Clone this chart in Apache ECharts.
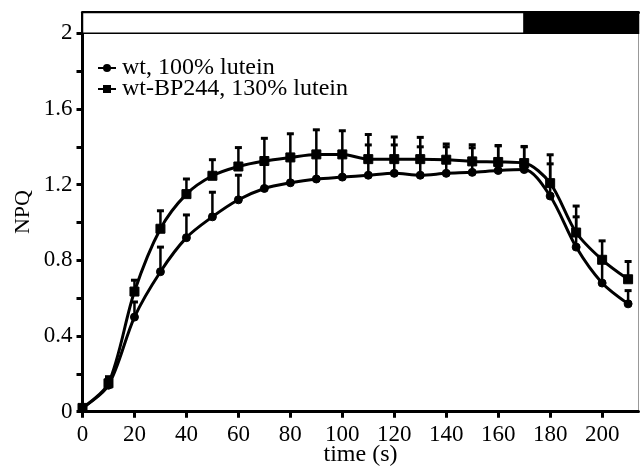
<!DOCTYPE html>
<html>
<head>
<meta charset="utf-8">
<script src="https://cdn.jsdelivr.net/npm/echarts@6/dist/echarts.min.js"></script>
<style>
html,body{margin:0;padding:0;background:#fff;}
#chart{width:640px;height:466px;}
</style>
</head>
<body>
<div id="chart"></div>
<script>
// time points (s)
const time = [0,10,20,30,40,50,60,70,80,90,100,110,120,130,140,150,160,170,180,190,200,210];
// wt, 100% lutein
const wtNPQ = [0.02,0.14,0.50,0.74,0.92,1.03,1.12,1.18,1.21,1.23,1.24,1.25,1.26,1.25,1.26,1.265,1.275,1.28,1.14,0.87,0.68,0.57];
const wtErr = [0.01,0.04,0.08,0.13,0.12,0.13,0.13,0.14,0.13,0.12,0.12,0.16,0.15,0.15,0.14,0.13,0.13,0.12,0.17,0.16,0.12,0.07];
// wt-BP244, 130% lutein
const bpNPQ = [0.02,0.15,0.635,0.967,1.15,1.247,1.296,1.325,1.344,1.36,1.36,1.335,1.335,1.335,1.332,1.323,1.32,1.314,1.208,0.947,0.803,0.70];
const bpErr = [0.01,0.035,0.06,0.095,0.08,0.085,0.10,0.12,0.125,0.13,0.125,0.13,0.117,0.115,0.083,0.088,0.087,0.088,0.15,0.14,0.10,0.094];
// tick labels
const xTicks = [0,20,40,60,80,100,120,140,160,180,200];
const yTicks = [0,0.4,0.8,1.2,1.6,2];
const yMinorTicks = [0,0.2,0.4,0.6,0.8,1.0,1.2,1.4,1.6,1.8,2.0];
// light / dark periods (s)
const lightPeriod = [0,170];
const darkPeriod = [170,214];
const seriesNames = ['wt, 100% lutein','wt-BP244, 130% lutein'];

const FONT = 'Liberation Serif';
const chart = echarts.init(document.getElementById('chart'));

function pairs(vals){ return time.map((t,i)=>[t,vals[i]]); }
function errData(vals, errs){ return time.map((t,i)=>[t,vals[i],errs[i]]); }

function errRender(params, api){
  const x = api.value(0), y = api.value(1), e = api.value(2);
  const p0 = api.coord([x,y]);
  const p1 = api.coord([x,y+e]);
  return {type:'group', children:[
    {type:'line', shape:{x1:p0[0],y1:p0[1],x2:p1[0],y2:p1[1]}, style:{stroke:'#000',lineWidth:2.5}},
    {type:'line', shape:{x1:p1[0]-3.5,y1:p1[1],x2:p1[0]+3.5,y2:p1[1]}, style:{stroke:'#000',lineWidth:3}}
  ]};
}

chart.setOption({
  animation:false,
  backgroundColor:'#fff',
  grid:{left:82.5,right:1.5,top:12.5,bottom:54.3,containLabel:false,outerBoundsMode:'none',
    show:true,borderColor:'#999',borderWidth:1,backgroundColor:'transparent'},
  legend:{
    orient:'vertical', left:92, top:51, itemWidth:18, itemHeight:10, itemGap:-3,
    data:seriesNames,
    textStyle:{fontFamily:FONT,fontSize:24,color:'#000',lineHeight:20,padding:[0,0,0,1]}
  },
  xAxis:[{
    type:'value', min:0, max:214, interval:20,
    name:'time (s)', nameLocation:'middle', nameGap:31, nameMoveOverlap:false,
    nameTextStyle:{fontFamily:FONT,fontSize:24,color:'#000'},
    axisLine:{show:true,lineStyle:{color:'#000',width:3}},
    axisTick:{show:true,length:6,lineStyle:{color:'#000',width:3},customValues:xTicks},
    axisLabel:{fontFamily:FONT,fontSize:23,color:'#000',margin:12,customValues:xTicks},
    splitLine:{show:false}
  },{
    type:'value', min:0, max:214, position:'top',
    axisLine:{show:true,lineStyle:{color:'#000',width:3}},
    axisTick:{show:false}, axisLabel:{show:false}, splitLine:{show:false}
  }],
  yAxis:{
    type:'value', min:0, max:2.11, interval:0.2,
    name:'NPQ', nameLocation:'middle', nameGap:48, nameRotate:90, nameMoveOverlap:false,
    nameTextStyle:{fontFamily:FONT,fontSize:22,color:'#000'},
    axisLine:{show:true,lineStyle:{color:'#000',width:3}},
    axisTick:{show:true,length:6,lineStyle:{color:'#000',width:3},customValues:yMinorTicks},
    axisLabel:{fontFamily:FONT,fontSize:23,color:'#000',margin:10,customValues:yTicks,
      formatter:v=>String(Math.round(v*10)/10)},
    splitLine:{show:false}
  },
  series:[
    {
      type:'line', name:'band', data:[], silent:true,
      markArea:{silent:true, data:[
        [{coord:[lightPeriod[0],2],itemStyle:{color:'#fff',borderColor:'#000',borderWidth:1.5}},{coord:[lightPeriod[1],2.11]}],
        [{coord:[darkPeriod[0],2],itemStyle:{color:'#000',borderColor:'#000',borderWidth:1.5}},{coord:[darkPeriod[1],2.11]}]
      ]}
    },
    {
      type:'custom', name:'wtErr', renderItem:errRender, data:errData(wtNPQ,wtErr), z:3, silent:true
    },
    {
      type:'custom', name:'bpErr', renderItem:errRender, data:errData(bpNPQ,bpErr), z:3, silent:true
    },
    {
      type:'line', name:seriesNames[0], data:pairs(wtNPQ), smooth:0.3,
      symbol:'circle', symbolSize:8, showAllSymbol:true,
      lineStyle:{color:'#000',width:3}, itemStyle:{color:'#000',borderColor:'#000'}, z:4
    },
    {
      type:'line', name:seriesNames[1], data:pairs(bpNPQ), smooth:0.3,
      symbol:'rect', symbolSize:9, showAllSymbol:true,
      lineStyle:{color:'#000',width:3}, itemStyle:{color:'#000',borderColor:'#000'}, z:4
    }
  ]
});
</script>
</body>
</html>
